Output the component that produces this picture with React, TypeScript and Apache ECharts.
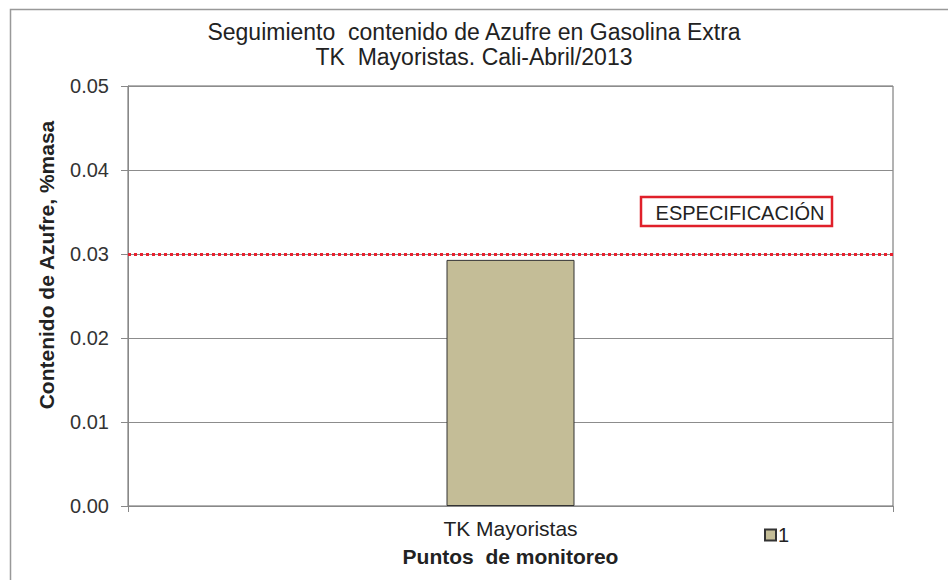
import React, { useEffect, useRef } from "react";
import * as echarts from "echarts";

const categories = ["TK Mayoristas"];
const seriesName = "1";
const sulfurValues = [0.0293];
const specLimit = 0.03;
const specLabel = "ESPECIFICACIÓN";
const yTicks = { min: 0, max: 0.05, interval: 0.01 };
const titleLines = ["Seguimiento  contenido de Azufre en Gasolina Extra", "TK  Mayoristas. Cali-Abril/2013"];
const yAxisName = "Contenido de Azufre, %masa";
const xAxisName = "Puntos  de monitoreo";

const FONT = "'Liberation Sans', Arial, sans-serif";

export default function App() {
  const ref = useRef<HTMLDivElement>(null);
  useEffect(() => {
    if (!ref.current) return;
    const chart = echarts.init(ref.current, null, { renderer: "svg" });
    chart.setOption({
      animation: false,
      backgroundColor: "#ffffff",
      textStyle: { fontFamily: FONT },
      title: {
        text: titleLines.join("\n"),
        left: "center",
        top: 14,
        textStyle: { fontSize: 23, fontWeight: "normal", color: "#222", lineHeight: 25, fontFamily: FONT },
      },
      legend: {
        data: [seriesName],
        left: 759,
        top: 520,
        itemWidth: 11,
        itemHeight: 11,
        icon: "rect",
        itemGap: 4,
        textStyle: { fontSize: 20, color: "#222", fontFamily: FONT, padding: [0, 0, 0, -3] },
      },
      grid: {
        left: 128,
        right: 55,
        top: 86,
        bottom: 74,
        show: true,
        borderColor: "#666",
        borderWidth: 1,
      },
      xAxis: {
        type: "category",
        data: categories,
        name: xAxisName,
        nameLocation: "middle",
        nameGap: 40,
        nameTextStyle: { fontSize: 21, fontWeight: "bold", color: "#222", fontFamily: FONT },
        axisLine: { lineStyle: { color: "#888", width: 1 } },
        axisTick: { show: true, alignWithLabel: false, length: 6, lineStyle: { color: "#888" } },
        axisLabel: { fontSize: 21, color: "#222", margin: 12, fontFamily: FONT },
        splitLine: { show: false },
      },
      yAxis: {
        type: "value",
        min: yTicks.min,
        max: yTicks.max,
        interval: yTicks.interval,
        name: yAxisName,
        nameLocation: "middle",
        nameGap: 71,
        nameTextStyle: {
          fontSize: 21,
          fontWeight: "bold",
          color: "#222",
          fontFamily: FONT,
          padding: [0, 0, 0, 62],
        },
        axisLine: { show: true, lineStyle: { color: "#888", width: 1 } },
        axisTick: { show: true, length: 7, lineStyle: { color: "#888" } },
        axisLabel: {
          fontSize: 20,
          color: "#333",
          margin: 19,
          fontFamily: FONT,
          formatter: (v: number) => v.toFixed(2),
        },
        splitLine: { show: true, lineStyle: { color: "#8c8c8c", width: 1 } },
      },
      series: [
        {
          name: seriesName,
          type: "bar",
          data: sulfurValues,
          barWidth: 128,
          itemStyle: { color: "#c4bd97", borderColor: "#333", borderWidth: 1 },
          markLine: {
            silent: true,
            symbol: ["none", "none"],
            label: { show: false },
            lineStyle: { color: "#e8202e", type: [3, 3], width: 3 },
            data: [{ yAxis: specLimit }],
          },
        },
      ],
      graphic: [
        {
          type: "rect",
          left: 8,
          top: 7,
          shape: { x: 0, y: 0, width: 960, height: 600 },
          style: { fill: "none", stroke: "#999", lineWidth: 1.5 },
          silent: true,
        },
        {
          type: "rect",
          shape: { x: 641, y: 197, width: 191, height: 29 },
          style: { fill: "#fff", stroke: "#e0202a", lineWidth: 2.5 },
          z: 100,
        },
        {
          type: "text",
          x: 740,
          y: 213,
          style: {
            text: specLabel,
            fontSize: 20,
            fontFamily: FONT,
            fill: "#222",
            align: "center",
            verticalAlign: "middle",
          },
          z: 101,
        },
      ],
    });
    return () => chart.dispose();
  }, []);
  return (
    <div
      ref={ref}
      style={{ position: "fixed", left: 0, top: 0, width: 948, height: 580 }}
    />
  );
}
